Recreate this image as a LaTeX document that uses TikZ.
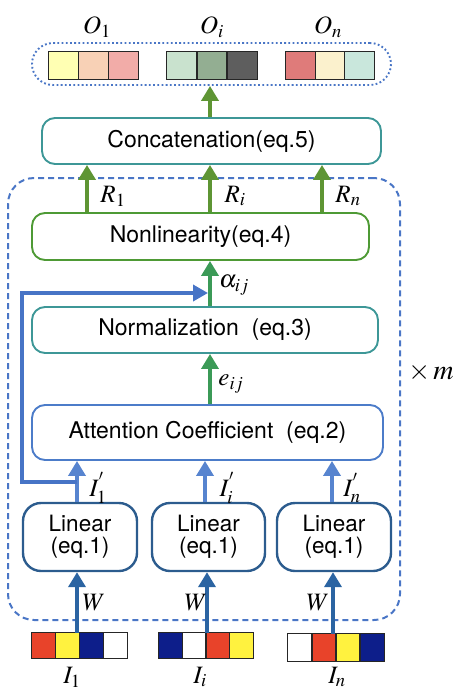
\documentclass[tikz,border=0pt]{standalone}
\usepackage{mathptmx}
\usepackage[no-math]{fontspec}
\setmainfont{TeX Gyre Heros}
\usetikzlibrary{arrows.meta,calc}
\definecolor{tealbox}{HTML}{3D9797}
\definecolor{nlgreen}{HTML}{4E9A35}
\definecolor{olivearr}{HTML}{5E9534}
\definecolor{greenarr}{HTML}{3B9A57}
\definecolor{attblue}{HTML}{4C7CC9}
\definecolor{iparr}{HTML}{5784CF}
\definecolor{fbblue}{HTML}{4774C6}
\definecolor{linblue}{HTML}{2C5C8E}
\definecolor{warr}{HTML}{2B64A2}
\definecolor{dashblue}{HTML}{4A76C6}
\definecolor{oA}{HTML}{FFFFB3}\definecolor{oB}{HTML}{F8D1B6}\definecolor{oC}{HTML}{F2ACA8}
\definecolor{oD}{HTML}{C9E2CE}\definecolor{oE}{HTML}{93AE92}\definecolor{oF}{HTML}{5E5E5E}
\definecolor{oG}{HTML}{DF7B7A}\definecolor{oH}{HTML}{FBF1CD}\definecolor{oI}{HTML}{C9E7DC}
\definecolor{cR}{HTML}{E8432A}\definecolor{cY}{HTML}{FFF23F}\definecolor{cN}{HTML}{0D1E8A}\definecolor{cW}{HTML}{FFFFFF}
\begin{document}
\begin{tikzpicture}[x=1pt,y=-1pt,
  box/.style={draw, rounded corners=13pt, line width=1.9pt, inner sep=0pt, font=\fontsize{23}{25}\selectfont},
  linbox/.style={draw=linblue, rounded corners=18pt, line width=2.4pt, inner sep=0pt, minimum height=68pt, align=center, font=\fontsize{22.5}{22}\selectfont},
  arr/.style={line width=4.4pt, -{Triangle[width=17pt,length=15pt]}},
  fbarr/.style={line width=3.6pt, draw=fbblue, -{Triangle[width=16pt,length=15pt]}},
  lab/.style={font=\fontsize{25}{28}\selectfont, inner sep=0pt},
  strip/.style={draw=none, inner sep=0pt, minimum height=26pt},
  cell/.style={draw=black!85, line width=1.3pt}
]
\useasboundingbox (0,0) rectangle (461,691);

% containers
\node[draw=dashblue, dash pattern=on 6pt off 4pt, line width=2pt, rounded corners=26pt,
      minimum width=392pt, minimum height=442pt, inner sep=0pt] (loop) at (204,399) {};
\node[draw=dashblue, dash pattern=on 1.8pt off 2.4pt, line width=1.9pt, rounded corners=21pt,
      minimum width=359pt, minimum height=42pt, inner sep=0pt] (outbox) at (211.5,64) {};

% main boxes
\node[box, draw=tealbox, minimum width=339pt, minimum height=46pt] (concat) at (211.5,141) {Concatenation(eq.5)};
\node[box, draw=nlgreen, minimum width=337pt, minimum height=47pt] (nonlin) at (200.5,236.5) {Nonlinearity(eq.4)};
\node[box, draw=tealbox, minimum width=346pt, minimum height=46pt] (norm) at (205,330) {Normalization\ \ (eq.3)};
\node[box, draw=attblue, minimum width=351pt, minimum height=55pt] (attn) at (207.5,432.5) {Attention Coefficient\ \ (eq.2)};

\node[linbox, minimum width=114pt] (lin1) at (80,537) {Linear\\(eq.1)};
\node[linbox, minimum width=113pt] (lin2) at (208.5,537) {Linear\\(eq.1)};
\node[linbox, minimum width=114pt] (lin3) at (334,537) {Linear\\(eq.1)};

% output strips
\node[strip, minimum width=89pt, minimum height=27pt] (o1) at (93.5,65.5) {};
\node[strip, minimum width=90pt, minimum height=27pt] (oi) at (212,65.5) {};
\node[strip, minimum width=88pt, minimum height=27pt] (on) at (330,65.5) {};
\foreach \s/\a/\b/\c in {o1/oA/oB/oC, oi/oD/oE/oF, on/oG/oH/oI}{
  \path[fill=\a] (\s.north west) rectangle ($(\s.south west)!1/3!(\s.south east)$);
  \path[fill=\b] ($(\s.north west)!1/3!(\s.north east)$) rectangle ($(\s.south west)!2/3!(\s.south east)$);
  \path[fill=\c] ($(\s.north west)!2/3!(\s.north east)$) rectangle (\s.south east);
  \draw[cell] (\s.north west) rectangle (\s.south east);
  \draw[cell] ($(\s.north west)!1/3!(\s.north east)$) -- ($(\s.south west)!1/3!(\s.south east)$);
  \draw[cell] ($(\s.north west)!2/3!(\s.north east)$) -- ($(\s.south west)!2/3!(\s.south east)$);
}

% input strips
\node[strip, minimum width=95pt, minimum height=25pt] (in1) at (79.5,645.5) {};
\node[strip, minimum width=94pt, minimum height=25pt] (ini) at (206,645.5) {};
\node[strip, minimum width=96pt, minimum height=27pt] (inn) at (336,647.5) {};
\foreach \s/\a/\b/\c/\d in {in1/cR/cY/cN/cW, ini/cN/cW/cR/cY, inn/cW/cR/cY/cN}{
  \path[fill=\a] (\s.north west) rectangle ($(\s.south west)!1/4!(\s.south east)$);
  \path[fill=\b] ($(\s.north west)!1/4!(\s.north east)$) rectangle ($(\s.south west)!2/4!(\s.south east)$);
  \path[fill=\c] ($(\s.north west)!2/4!(\s.north east)$) rectangle ($(\s.south west)!3/4!(\s.south east)$);
  \path[fill=\d] ($(\s.north west)!3/4!(\s.north east)$) rectangle (\s.south east);
  \draw[cell] (\s.north west) rectangle (\s.south east);
  \foreach \f in {1,2,3}{
    \draw[cell] ($(\s.north west)!\f/4!(\s.north east)$) -- ($(\s.south west)!\f/4!(\s.south east)$);
  }
}

% arrows
\draw[arr, draw=olivearr, fill=olivearr] (concat.north -| 210,0) -- (outbox.south -| 210,0);
\foreach \x in {87,210,322}{
  \draw[arr, draw=olivearr, fill=olivearr] (nonlin.north -| \x,0) -- (concat.south -| \x,0);
}
\draw[arr, draw=greenarr, line width=3.6pt] (norm.north -| 210,0) -- (nonlin.south -| 210,0);
\draw[arr, draw=greenarr, line width=3.6pt] (attn.north -| 210,0) -- (norm.south -| 210,0);
\draw[arr, draw=iparr, line width=3.6pt] (lin1.north -| 77,0) -- (attn.south -| 77,0);
\draw[arr, draw=iparr, line width=3.6pt] (lin2.north -| 205,0) -- (attn.south -| 205,0);
\draw[arr, draw=iparr, line width=3.6pt] (lin3.north -| 332,0) -- (attn.south -| 332,0);
\draw[arr, draw=warr] (in1.north -| 77,0) -- (lin1.south -| 77,0);
\draw[arr, draw=warr] (ini.north -| 207,0) -- (lin2.south -| 207,0);
\draw[arr, draw=warr] (inn.north -| 333,0) -- (lin3.south -| 333,0);

% feedback
\coordinate (fbstart) at (77,482);
\coordinate (fbend) at (208,293);
\draw[fbarr] (fbstart) -| (22,293) -- (fbend);

% labels
\node[lab] (lO1) at (97,27) {$O_1$};
\node[lab] (lOi) at (212,27) {$O_i$};
\node[lab] (lOn) at (328,27) {$O_n$};
\node[lab] (lR1) at (113,196) {$R_1$};
\node[lab] (lRi) at (235,196) {$R_i$};
\node[lab] (lRn) at (348,196) {$R_n$};
\node[lab] (lal) at (234,285) {$\alpha_{ij}$};
\node[lab] (le) at (231,384) {$e_{ij}$};
\node[lab] (lI1) at (98,488) {$I^{'}_{1}$};
\node[lab] (lIi) at (227,488) {$I^{'}_{i}$};
\node[lab] (lIn) at (352,488) {$I^{'}_{n}$};
\node[lab] (lW1) at (94,603) {$W$};
\node[lab] (lWi) at (196,603) {$W$};
\node[lab] (lWn) at (318,603) {$W$};
\node[lab] (lin1l) at (72,677) {$I_1$};
\node[lab] (linil) at (200,677) {$I_i$};
\node[lab] (linnl) at (337,677) {$I_n$};
\node[lab, font=\fontsize{28}{30}\selectfont] (xm) at (431,372) {$\times\, m$};
\end{tikzpicture}
\end{document}
